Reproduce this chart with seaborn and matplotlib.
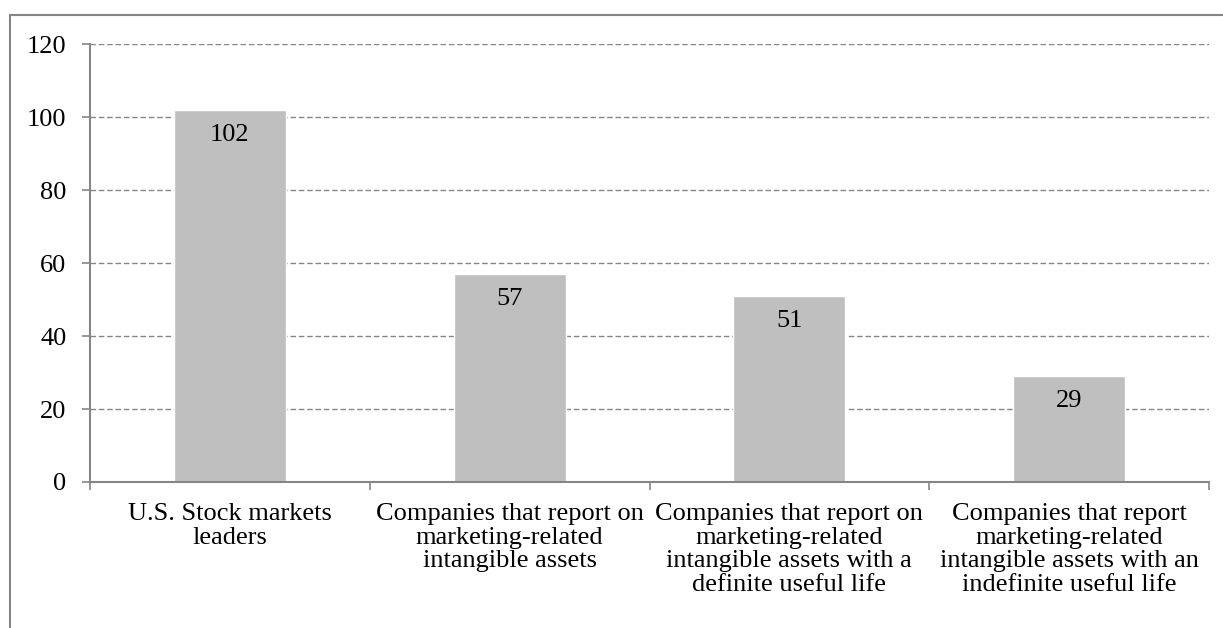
import matplotlib
matplotlib.use("Agg")
import matplotlib.pyplot as plt
import seaborn as sns
import pandas as pd
from matplotlib.lines import Line2D

categories = [
    "U.S. Stock markets\nleaders",
    "Companies that report on\nmarketing-related\nintangible assets",
    "Companies that report on\nmarketing-related\nintangible assets with a\ndefinite useful life",
    "Companies that report\nmarketing-related\nintangible assets with an\nindefinite useful life",
]
values = [102, 57, 51, 29]
yticks = [0, 20, 40, 60, 80, 100, 120]

sns.set_theme(style="white")
plt.rcParams['font.family'] = ['Liberation Serif', 'DejaVu Serif']

FS = 19
W, H = 1223, 628
fig = plt.figure(figsize=(W / 100, H / 100), dpi=100)
ax = fig.add_axes([90 / W, 1 - 482 / H, (1209 - 90) / W, (482 - 44) / H])

df = pd.DataFrame({"cat": categories, "val": values})
sns.barplot(data=df, x="cat", y="val", color="#BFBFBF", width=0.4,
            saturation=1, ax=ax, zorder=3)

gray = "#868686"
ax.set_xlim(-0.5, len(categories) - 0.5)
ax.set_ylim(0, 120)
ax.set_yticks(yticks)
ax.set_yticklabels([str(t) for t in yticks], fontsize=FS, color="black")
ax.yaxis.grid(True, linestyle=(0, (4, 2)), color=gray, linewidth=1.0, zorder=0)
ax.set_axisbelow(True)
ax.tick_params(axis="y", direction="out", length=6, width=1.2, color=gray, pad=11, left=True)
ax.set_xticks(range(len(categories)))
ax.set_xticklabels(categories, fontsize=FS, color="black", linespacing=1.1, va="top")
ax.tick_params(axis="x", which="major", length=0, pad=15)
ax.set_xticks([i - 0.5 for i in range(len(categories) + 1)], minor=True)
ax.tick_params(axis="x", which="minor", direction="out", length=6, width=1.2, color=gray, bottom=True)
ax.set_xlabel("")
ax.set_ylabel("")

for s in ["top", "right"]:
    ax.spines[s].set_visible(False)
for s in ["left", "bottom"]:
    ax.spines[s].set_color(gray)
    ax.spines[s].set_linewidth(1.5)
ax.spines["bottom"].set_zorder(4)

for i, v in enumerate(values):
    ax.annotate(str(v), xy=(i, v), xytext=(0, -25), textcoords="offset pixels",
                ha="center", va="center", fontsize=FS, color="black", zorder=5)

# outer chart border (top and left visible)
fig.add_artist(Line2D([10 / W, 1.0], [1 - 15 / H, 1 - 15 / H], transform=fig.transFigure,
                      color=gray, linewidth=1.5))
fig.add_artist(Line2D([10 / W, 10 / W], [0, 1 - 15 / H], transform=fig.transFigure,
                      color=gray, linewidth=1.5))

fig.savefig("out.png", dpi=100)
